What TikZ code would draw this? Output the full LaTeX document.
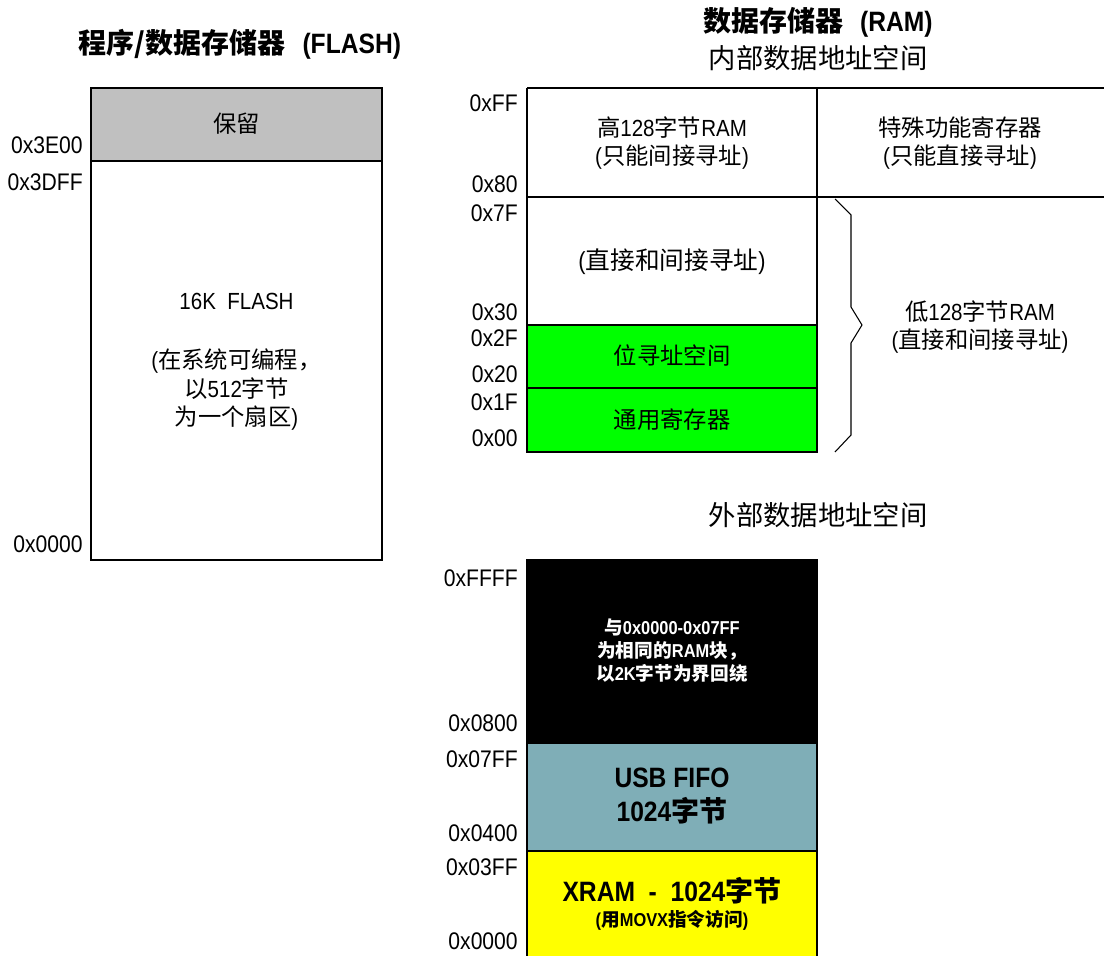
\documentclass[tikz,border=0pt]{standalone}
\usepackage{fontspec}
\setmainfont{Noto Sans CJK SC}
\newfontfamily\lat{Liberation Sans}[FakeStretch=0.88]
\definecolor{resgray}{RGB}{192,192,192}
\definecolor{regreen}{RGB}{0,255,0}
\definecolor{fifoteal}{RGB}{127,174,183}
\definecolor{xyellow}{RGB}{255,255,0}
\begin{document}
\begin{tikzpicture}[x=0.75pt,y=-0.75pt,
  frame/.style={draw=black, line width=1.3pt},
  addr/.style={anchor=east, inner sep=0pt, font=\lat\fontsize{18}{20}\selectfont},
  lbl/.style={align=center, inner sep=0pt, font=\fontsize{17.5}{20.5}\selectfont},
  title/.style={align=center, inner sep=0pt, font=\bfseries\fontsize{21}{24}\selectfont},
  subtitle/.style={align=center, inner sep=0pt, font=\fontsize{20.5}{24}\selectfont},
  bigb/.style={align=center, inner sep=0pt, font=\bfseries\fontsize{21}{25.5}\selectfont},
  smallb/.style={align=center, inner sep=0pt, font=\bfseries\fontsize{14}{17.3}\selectfont}]
\useasboundingbox (0,0) rectangle (1104,956);

% ---------- FLASH ----------
\node[title] (tflash) at (240,44) {程序/数据存储器\hspace{0.6em}{\lat\bfseries (FLASH)}};
\draw[frame, fill=resgray] (91,88) rectangle (382,161);
\draw[frame, fill=white] (91,161) rectangle (382,560);
\node[lbl] (res) at (236.5,124) {保留};
\node[lbl] (flash) at (236.5,301) {\lat 16K\ \ FLASH};
\node[lbl, font=\fontsize{17.5}{21.4}\selectfont] (flashnote) at (236.5,390) {{\lat (}在系统可编程，\\以{\lat 512}字节\\为一个扇区{\lat )}};
\node[addr] (a3e00) at (83,145) {0x3E00};
\node[addr] (a3dff) at (83,182) {0x3DFF};
\node[addr] (a0000f) at (83,544) {0x0000};

% ---------- internal RAM ----------
\node[title] (tram) at (818,22) {数据存储器\hspace{0.6em}{\lat\bfseries (RAM)}};
\node[subtitle] (tint) at (818,58) {内部数据地址空间};
\draw[frame] (527,88) -- (1104,88) (527,197) -- (1104,197);
\draw[frame] (527,88) -- (527,197) (817,88) -- (817,197);
\draw[frame, fill=white] (527,197) rectangle (817,325);
\draw[frame, fill=regreen] (527,325) rectangle (817,388);
\draw[frame, fill=regreen] (527,388) rectangle (817,452);
\node[lbl] (hi) at (672,143) {高{\lat 128}字节{\lat RAM}\\{\lat (}只能间接寻址{\lat )}};
\node[lbl] (sfr) at (960,143) {特殊功能寄存器\\{\lat (}只能直接寻址{\lat )}};
\node[lbl, font=\fontsize{18.5}{21}\selectfont] (dir) at (672,262) {{\lat (}直接和间接寻址{\lat )}};
\node[lbl] (bit) at (672,356) {位寻址空间};
\node[lbl] (gpr) at (672,420) {通用寄存器};
\node[lbl] (lo) at (980,327) {低{\lat 128}字节{\lat RAM}\\{\lat (}直接和间接寻址{\lat )}};
\coordinate (b1) at (835,199);
\coordinate (b2) at (851,215);
\coordinate (b3) at (851,307);
\coordinate (b4) at (862,325);
\coordinate (b5) at (851,343);
\coordinate (b6) at (851,435);
\coordinate (b7) at (835,452);
\draw[line width=0.8pt] (b1) -- (b2) -- (b3) -- (b4) -- (b5) -- (b6) -- (b7);
\node[addr] (aff) at (518,103) {0xFF};
\node[addr] (a80) at (518,184) {0x80};
\node[addr] (a7f) at (518,213) {0x7F};
\node[addr] (a30) at (518,312) {0x30};
\node[addr] (a2f) at (518,338) {0x2F};
\node[addr] (a20) at (518,374) {0x20};
\node[addr] (a1f) at (518,402) {0x1F};
\node[addr] (a00) at (518,438) {0x00};

% ---------- external RAM ----------
\node[subtitle] (text) at (818,515) {外部数据地址空间};
\draw[frame, fill=black] (527,560) rectangle (817,743);
\draw[frame, fill=fifoteal] (527,743) rectangle (817,851);
\draw[frame, fill=xyellow] (527,851) rectangle (817,960);
\node[smallb, text=white] (wrap) at (672,651) {与{\lat\bfseries 0x0000-0x07FF}\\为相同的{\lat\bfseries RAM}块，\\以{\lat\bfseries 2K}字节为界回绕};
\node[bigb] (fifo) at (672,796) {{\lat\bfseries USB\ FIFO}\\{\lat\bfseries 1024}字节};
\node[bigb] (xram) at (672,891) {{\lat\bfseries XRAM\ \ -\ \ 1024}字节};
\node[smallb] (movx) at (672,920) {{\lat\bfseries (}用{\lat\bfseries MOVX}指令访问{\lat\bfseries )}};
\node[addr] (affff) at (518,578) {0xFFFF};
\node[addr] (a0800) at (518,723) {0x0800};
\node[addr] (a07ff) at (518,759) {0x07FF};
\node[addr] (a0400) at (518,833) {0x0400};
\node[addr] (a03ff) at (518,867) {0x03FF};
\node[addr] (a0000) at (518,941) {0x0000};
\end{tikzpicture}
\end{document}
